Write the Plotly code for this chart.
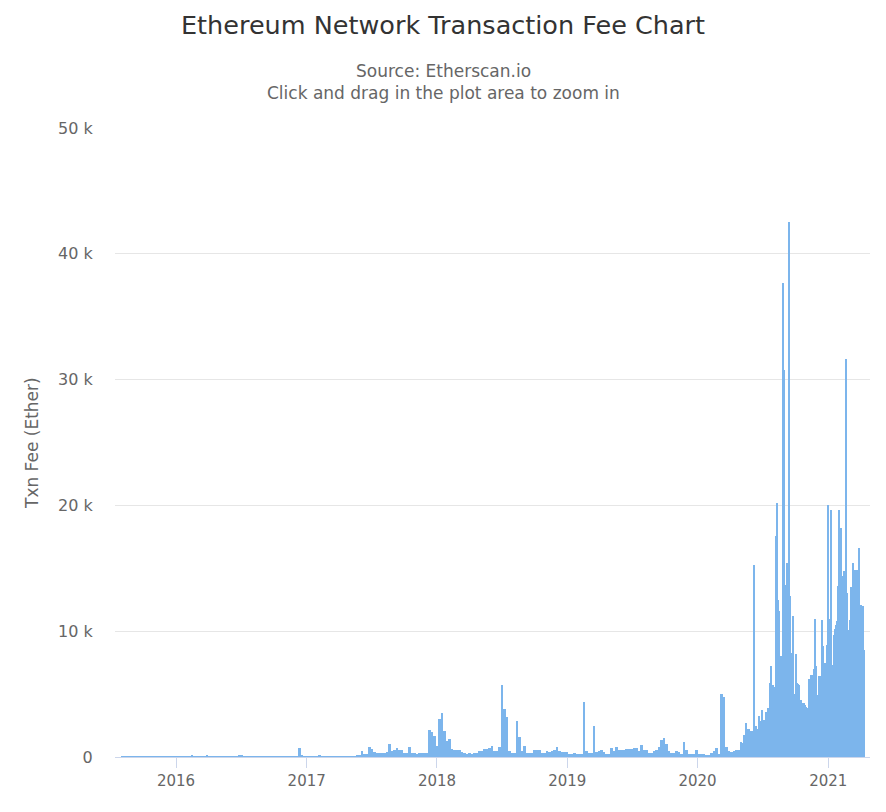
import pandas as pd
import plotly.graph_objects as go

# ---- data ----
# typical daily fee (Ether) per weekly bin, starting 2015-07-30
weekly_start = "2015-07-30"
weekly_fee = [
    10, 15, 18, 20, 22, 25, 30, 28, 25, 30,
    35, 40, 38, 35, 40, 45, 50, 48, 45, 50,
    55, 50, 45, 50, 55, 60, 65, 60, 120, 70,
    65, 60, 70, 75, 80, 70, 65, 60, 55, 50,
    55, 60, 55, 50, 55, 60, 70, 160, 80, 60,
    55, 50, 45, 50, 55, 50, 45, 40, 45, 50,
    55, 50, 55, 60, 55, 50, 55, 60, 65, 70,
    75, 740, 80, 70, 65, 60, 65, 70, 75, 80,
    60, 55, 50, 55, 60, 55, 50, 55, 60, 55,
    60, 65, 70, 75, 90, 150, 450, 200, 220, 780,
    600, 380, 350, 330, 280, 300, 400, 1050, 450, 520,
    700, 550, 550, 300, 330, 800, 300, 280, 270, 280,
    280, 300, 350, 2150, 2000, 1650, 900, 3000, 3500, 2050,
    1300, 1400, 650, 530, 580, 560, 400, 300, 270, 280,
    270, 300, 320, 500, 480, 650, 670, 700, 900, 480,
    450, 800, 5750, 3850, 3200, 450, 350, 320, 2850, 1600,
    450, 900, 320, 320, 330, 580, 580, 550, 330, 320,
    450, 380, 480, 550, 800, 500, 420, 420, 400, 260,
    240, 320, 240, 230, 240, 4350, 450, 330, 320, 2500,
    370, 450, 550, 400, 270, 270, 720, 450, 800, 530,
    550, 520, 640, 660, 640, 720, 700, 450, 930, 580,
    560, 320, 330, 450, 580, 800, 1350, 1500, 1050, 450,
    320, 330, 450, 430, 270, 1170, 580, 270, 270, 260,
    530, 210, 220, 270, 150, 130, 320, 450, 720, 260,
    5000, 4800, 800, 500, 420, 450, 550, 580,
]

# typical daily fee (Ether) per 3-day bin, starting 2020-04-30
recent_start = "2020-04-30"
recent_fee = [
    1200, 715, 1110, 1770, 1770, 2700, 2040, 2230, 2230, 2040,
    2040, 2100, 15300, 2440, 2440, 2250, 2250, 3240, 2840, 2840,
    3750, 2970, 2970, 3550, 3550, 3900, 3900, 5880, 7260, 5750,
    5750, 5600, 5600, 17600, 20200, 12500, 11600, 8000, 7300, 37700,
    30800, 13700, 13000, 15400, 13500, 42500, 12800, 7500, 8300, 11200,
    5000, 8200, 5900, 5800, 5700, 4400, 4500, 4300, 4000, 4300,
    4100, 4000, 3900, 3800, 6200, 6500, 6300, 6500, 7000, 11000,
    7200, 3900, 4900, 6400, 6400, 6400, 10900, 8800, 7500, 7500,
    8900, 20000, 11000, 11000, 19600, 7300, 7300, 9700, 10200, 10500,
    10800, 13600, 19600, 18200, 14400, 14400, 14800, 14800, 31600, 13000,
    10100, 10100, 10900, 13500, 13500, 15400, 14900, 14900, 14900, 11800,
    16600, 12100, 12100, 12000, 12000, 8500,
]

y_tick_vals = [0, 10000, 20000, 30000, 40000, 50000]
y_tick_text = ["0", "10 k", "20 k", "30 k", "40 k", "50 k"]

title_text = "Ethereum Network Transaction Fee Chart"
subtitle_lines = ["Source: Etherscan.io", "Click and drag in the plot area to zoom in"]
y_title = "Txn Fee (Ether)"

# ---- figure ----
DAY_MS = 86400000
weekly_dates = pd.date_range(weekly_start, periods=len(weekly_fee), freq="7D")
recent_dates = pd.date_range(recent_start, periods=len(recent_fee), freq="3D")

BAR_COLOR = "#7cb5ec"
FONT = "DejaVu Sans, Verdana, sans-serif"

fig = go.Figure()
fig.add_trace(go.Bar(
    x=weekly_dates, y=weekly_fee, width=7 * DAY_MS, offset=0,
    marker=dict(color=BAR_COLOR, line=dict(width=0)), showlegend=False,
))
fig.add_trace(go.Bar(
    x=recent_dates, y=recent_fee, width=3 * DAY_MS, offset=0,
    marker=dict(color=BAR_COLOR, line=dict(width=0)), showlegend=False,
))

# page body has an 8px margin, so the figure is offset by 8px
fig.update_layout(
    width=878, height=796,
    margin=dict(l=107, r=16, t=120, b=47),
    paper_bgcolor="white", plot_bgcolor="white",
    barmode="overlay", bargap=0,
    font=dict(family=FONT, color="#666666", size=15),
)

fig.update_xaxes(
    type="date",
    range=["2015-07-14", "2021-04-28"],
    tick0="2016-01-01", dtick="M12", tickformat="%Y",
    ticks="outside", ticklen=10, tickcolor="#ccd6eb", tickwidth=1,
    showline=True, linecolor="#ccd6eb", linewidth=1,
    showgrid=False, zeroline=False,
    tickfont=dict(size=15, color="#666666"),
)
fig.update_yaxes(
    range=[0, 50000],
    tickvals=y_tick_vals, ticktext=y_tick_text,
    showgrid=True, gridcolor="#e6e6e6", gridwidth=1,
    zeroline=False, showline=False,
    ticks="outside", ticklen=18, tickcolor="rgba(0,0,0,0)",
    tickfont=dict(size=16, color="#666666"),
)

annotations = [
    dict(text=title_text, x=443, y=25, font=dict(size=25.5, color="#333333")),
    dict(text=subtitle_lines[0], x=443, y=71, font=dict(size=17, color="#666666")),
    dict(text=subtitle_lines[1], x=443, y=93, font=dict(size=17, color="#666666")),
]
for a in annotations:
    fig.add_annotation(
        text=a["text"], xref="paper", yref="paper",
        x=(a["x"] - 115) / 755, y=(757 - a["y"]) / 629,
        xanchor="center", yanchor="middle", showarrow=False, font=a["font"],
    )
fig.add_annotation(
    text=y_title, xref="paper", yref="paper",
    x=(32 - 115) / 755, y=(757 - 443) / 629, textangle=-90,
    xanchor="center", yanchor="middle", showarrow=False,
    font=dict(size=17, color="#666666"),
)

fig.write_html("out.html")
